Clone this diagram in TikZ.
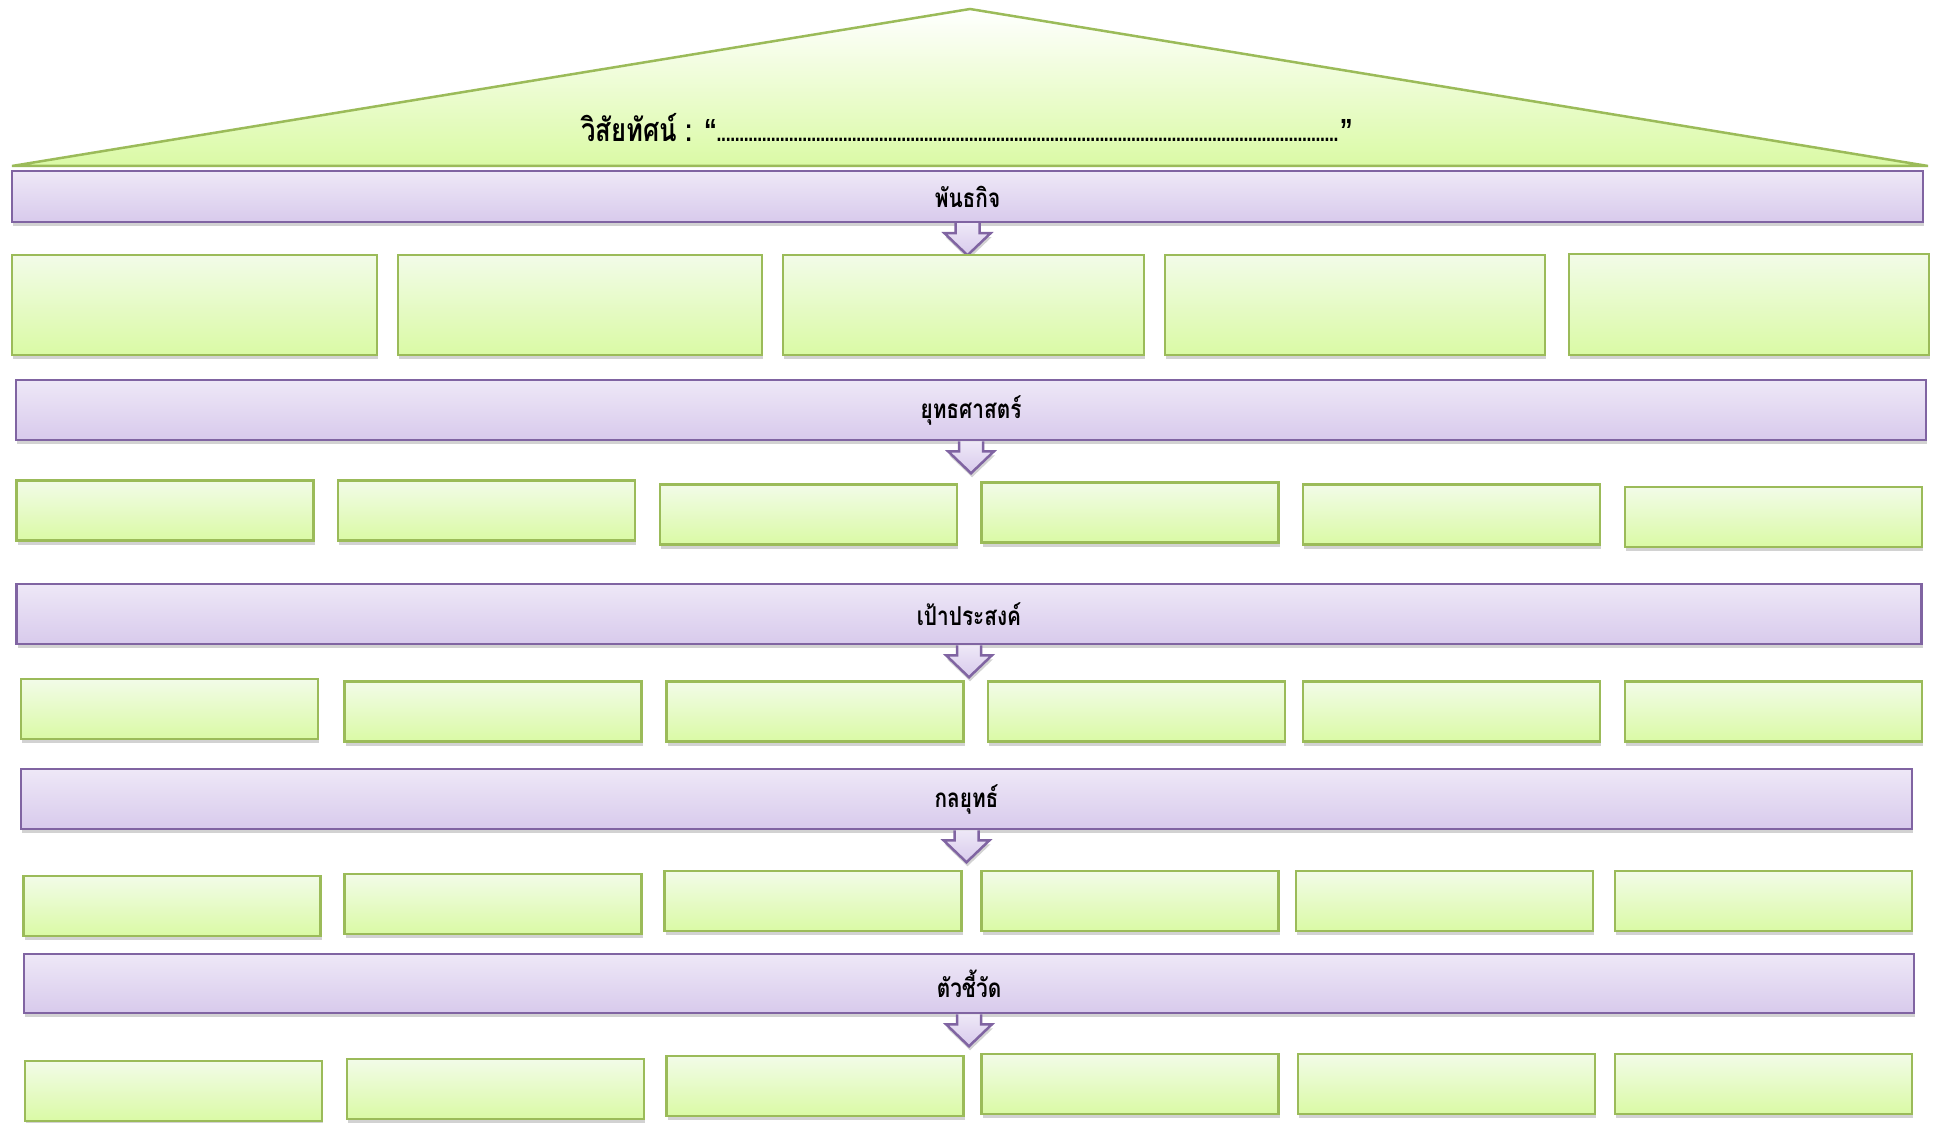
\documentclass[tikz,border=0pt]{standalone}
\usepackage{fontspec}
\newfontfamily\thaifont[Script=Thai, FakeStretch=0.8]{Loma}
\newfontfamily\quotefont[FakeStretch=0.8]{Liberation Sans}
\usepackage{tikz}
\usetikzlibrary{shadows}

\definecolor{boxline}{HTML}{9BBB59}
\definecolor{boxtop}{HTML}{F2FBE8}
\definecolor{boxbot}{HTML}{DAFAA5}
\definecolor{bandline}{HTML}{8064A2}
\definecolor{bandtop}{HTML}{EEE8F7}
\definecolor{bandbot}{HTML}{D8CAEC}

\tikzset{
  softshadow/.style={drop shadow={shadow xshift=1pt, shadow yshift=-4pt, opacity=0.25, fill=black!70}},
  cell/.style={draw=boxline, line width=2.5pt, top color=boxtop, bottom color=boxbot, softshadow, inner sep=0pt},
  goalbox/.style={cell, minimum width=297pt, minimum height=60pt},
  band/.style={draw=bandline, line width=2.5pt, top color=bandtop, bottom color=bandbot, softshadow,
    font=\thaifont\bfseries\fontsize{26}{30}\selectfont, inner sep=0pt},
  bandarrow/.style={draw=bandline, line width=2.5pt, line join=miter, top color=bandtop, bottom color=bandbot, softshadow}
}

\begin{document}
\begin{tikzpicture}[x=1pt, y=-1pt]
        \useasboundingbox (0,0) rectangle (1933,1123);
        % roof
        \coordinate (roofL) at (12,166);
        \coordinate (roofT) at (970,9);
        \coordinate (roofR) at (1928,166);
        \draw [draw=boxline, line width=2.5pt, top color=white, bottom color=boxbot] (roofL) -- (roofT) -- (roofR) -- cycle;
        \node (vision) at (967,128) [font=\thaifont\bfseries\fontsize{32}{38}\selectfont]
          {วิสัยทัศน์ : {\quotefont\bfseries “\hbox to 623pt{\leaders\hbox to 4.5pt{\hss\fontsize{22}{24}\selectfont.\hss}\hfill}”}};

        % bands
        \node (b1) at (967.5,196.5) [band, minimum width=1911pt, minimum height=51pt] {พันธกิจ};
        \node (b2) at (971,410) [band, minimum width=1910pt, minimum height=60pt] {ยุทธศาสตร์};
        \node (b3) at (969,614) [band, minimum width=1905pt, minimum height=60pt] {เป้าประสงค์};
        \node (b4) at (966.5,799) [band, minimum width=1891pt, minimum height=60pt] {กลยุทธ์};
        \node (b5) at (969,983.5) [band, minimum width=1890pt, minimum height=59pt] {ตัวชี้วัด};

        % arrows
        \draw [bandarrow] (b1.south) ++(-12,0) -- ++(0,10) -- ++(-11,0) -- ++(23,22) -- ++(23,-22) -- ++(-11,0) -- ++(0,-10);
        \draw [bandarrow] (b2.south) ++(-12,0) -- ++(0,10) -- ++(-11,0) -- ++(23,22) -- ++(23,-22) -- ++(-11,0) -- ++(0,-10);
        \draw [bandarrow] (b3.south) ++(-12,0) -- ++(0,10) -- ++(-11,0) -- ++(23,22) -- ++(23,-22) -- ++(-11,0) -- ++(0,-10);
        \draw [bandarrow] (b4.south) ++(-12,0) -- ++(0,10) -- ++(-11,0) -- ++(23,22) -- ++(23,-22) -- ++(-11,0) -- ++(0,-10);
        \draw [bandarrow] (b5.south) ++(-12,0) -- ++(0,10) -- ++(-11,0) -- ++(23,22) -- ++(23,-22) -- ++(-11,0) -- ++(0,-10);

        % missions
        \node (m1) at (194.5,305) [cell, minimum width=365pt, minimum height=100pt] {};
        \node (m2) at (580,305) [cell, minimum width=364pt, minimum height=100pt] {};
        \node (m3) at (963.5,305) [cell, minimum width=361pt, minimum height=100pt] {};
        \node (m4) at (1355,305) [cell, minimum width=380pt, minimum height=100pt] {};
        \node (m5) at (1749,304.5) [cell, minimum width=360pt, minimum height=101pt] {};

        % strategies
        \node (s1) at (165,510.5) [goalbox] {};
        \node (s2) at (486.5,510.5) [goalbox] {};
        \node (s3) at (808.5,514.5) [goalbox] {};
        \node (s4) at (1130,512.5) [goalbox] {};
        \node (s5) at (1451.5,514.5) [goalbox] {};
        \node (s6) at (1773.5,517) [goalbox] {};

        % goals
        \node (g1) at (169.5,709) [goalbox] {};
        \node (g2) at (493,711.5) [goalbox] {};
        \node (g3) at (815,711.5) [goalbox] {};
        \node (g4) at (1136.5,711.5) [goalbox] {};
        \node (g5) at (1451.5,711.5) [goalbox] {};
        \node (g6) at (1773.5,711.5) [goalbox] {};

        % tactics
        \node (t1) at (172,906) [goalbox] {};
        \node (t2) at (493,904) [goalbox] {};
        \node (t3) at (813,901) [goalbox] {};
        \node (t4) at (1130,901) [goalbox] {};
        \node (t5) at (1444.5,901) [goalbox] {};
        \node (t6) at (1763.5,901) [goalbox] {};

        % indicators
        \node (k1) at (173.5,1091) [goalbox] {};
        \node (k2) at (495.5,1089) [goalbox] {};
        \node (k3) at (815,1086) [goalbox] {};
        \node (k4) at (1130,1084) [goalbox] {};
        \node (k5) at (1446.5,1084) [goalbox] {};
        \node (k6) at (1763.5,1084) [goalbox] {};
    \end{tikzpicture}
\end{document}
